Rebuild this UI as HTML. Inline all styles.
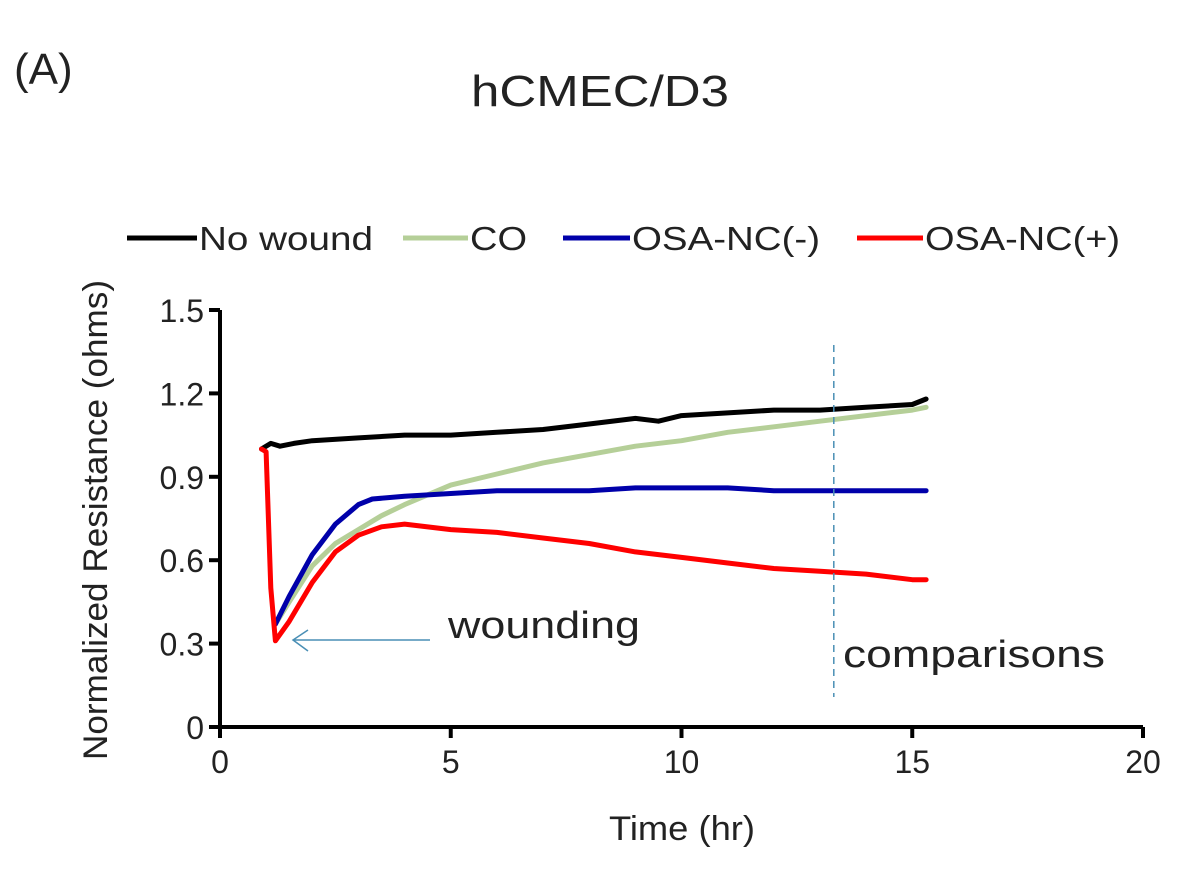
<!DOCTYPE html>
<html><head><meta charset="utf-8"><style>
body{margin:0;background:#fff;}
svg{display:block;font-family:"Liberation Sans",Arial,sans-serif;}
</style></head><body>
<svg id="chart" width="1203" height="873" viewBox="0 0 1203 873">
<text x="14" y="84" font-size="44" fill="#222">(A)</text>
<text x="600" y="106" font-size="44" fill="#222" text-anchor="middle" textLength="258" lengthAdjust="spacingAndGlyphs">hCMEC/D3</text>
<g id="legend">
<line x1="127" y1="238" x2="197" y2="238" stroke="#000" stroke-width="5"/>
<text x="199" y="250" font-size="33" fill="#222" textLength="174" lengthAdjust="spacingAndGlyphs">No wound</text>
<line x1="403" y1="238" x2="468" y2="238" stroke="#b5cf98" stroke-width="5"/>
<text x="470" y="250" font-size="33" fill="#222" textLength="57" lengthAdjust="spacingAndGlyphs">CO</text>
<line x1="563" y1="238" x2="630" y2="238" stroke="#0000aa" stroke-width="5"/>
<text x="632" y="250" font-size="33" fill="#222" textLength="188" lengthAdjust="spacingAndGlyphs">OSA-NC(-)</text>
<line x1="857" y1="238" x2="923" y2="238" stroke="#ff0000" stroke-width="5"/>
<text x="925" y="250" font-size="33" fill="#222" textLength="195" lengthAdjust="spacingAndGlyphs">OSA-NC(+)</text>
</g>
<g id="axes"></g>
<g id="series"></g>
<g id="annot"></g>
</svg>
<script>
const xTicks=[0,5,10,15,20];
const yTicks=[0,0.3,0.6,0.9,1.2,1.5];
const yTickLabels=["0","0.3","0.6","0.9","1.2","1.5"];
const timeNoWound=[0.9,1.1,1.3,1.6,2,3,4,5,6,7,8,9,9.5,10,11,12,13,14,15,15.3];
const valNoWound=[1.0,1.02,1.01,1.02,1.03,1.04,1.05,1.05,1.06,1.07,1.09,1.11,1.1,1.12,1.13,1.14,1.14,1.15,1.16,1.18];
const timeCO=[1.2,1.5,2,2.5,3,3.5,4,5,6,7,8,9,10,11,12,13,14,15,15.3];
const valCO=[0.37,0.45,0.58,0.66,0.71,0.76,0.80,0.87,0.91,0.95,0.98,1.01,1.03,1.06,1.08,1.10,1.12,1.14,1.15];
const timeMinus=[1.2,1.5,2,2.5,3,3.3,4,5,6,7,8,9,10,11,12,13,14,15,15.3];
const valMinus=[0.37,0.47,0.62,0.73,0.80,0.82,0.83,0.84,0.85,0.85,0.85,0.86,0.86,0.86,0.85,0.85,0.85,0.85,0.85];
const timePlus=[0.9,1.0,1.1,1.2,1.5,2,2.5,3,3.5,4,5,6,7,8,9,10,11,12,13,14,15,15.3];
const valPlus=[1.0,0.99,0.5,0.31,0.38,0.52,0.63,0.69,0.72,0.73,0.71,0.70,0.68,0.66,0.63,0.61,0.59,0.57,0.56,0.55,0.53,0.53];
const dashTime=13.3;

const X0=220,X1=1143,Y0=727,Y1=310;
const xs=v=>X0+(v-0)/(20-0)*(X1-X0);
const ys=v=>Y0-(v-0)/(1.5-0)*(Y0-Y1);
const NS="http://www.w3.org/2000/svg";
function mk(tag,attrs,parent){const e=document.createElementNS(NS,tag);for(const k in attrs)e.setAttribute(k,attrs[k]);parent.appendChild(e);return e;}
const axes=document.getElementById('axes');
let e=mk('line',{x1:X0,y1:Y0,x2:X1,y2:Y0,stroke:'#000','stroke-width':4},axes);


e=mk('line',{x1:X0,y1:Y0,x2:X0,y2:Y1,stroke:'#000','stroke-width':4},axes);


xTicks.forEach(t=>{
 const x=xs(t);
 let l=mk('line',{x1:x,y1:Y0,x2:x,y2:Y0+11,stroke:'#000','stroke-width':4},axes);
 
 
 let tx=mk('text',{x:x,y:Y0+46,'font-size':32,fill:'#222','text-anchor':'middle'},axes);
 tx.textContent=String(t);
 
 
});
yTicks.forEach((t,i)=>{
 const y=ys(t);
 let l=mk('line',{x1:X0-11,y1:y,x2:X0,y2:y,stroke:'#000','stroke-width':4},axes);
 
 
 let tx=mk('text',{x:X0-16,y:y+12,'font-size':32,fill:'#222','text-anchor':'end'},axes);
 tx.textContent=yTickLabels[i];
 
 
});
let xt=mk('text',{x:682,y:840,'font-size':34,fill:'#222','text-anchor':'middle',textLength:146,lengthAdjust:'spacingAndGlyphs'},axes);
xt.textContent='Time (hr)';


let yt=mk('text',{x:0,y:0,'font-size':34,fill:'#222','text-anchor':'middle',textLength:480,lengthAdjust:'spacingAndGlyphs',transform:'translate(107,520) rotate(-90)'},axes);
yt.textContent='Normalized Resistance (ohms)';



const ser=document.getElementById('series');
function line(ts,vs,color,name){
 const d=ts.map((t,i)=>(i?'L':'M')+xs(t).toFixed(1)+','+ys(vs[i]).toFixed(1)).join(' ');
 const p=mk('path',{d:d,fill:'none',stroke:color,'stroke-width':5,'stroke-linejoin':'round','stroke-linecap':'round'},ser);
 
 
}
line(timeCO,valCO,'#b5cf98','series-co');
line(timeNoWound,valNoWound,'#000','series-no-wound');
line(timeMinus,valMinus,'#0000aa','series-osa-nc-minus');
line(timePlus,valPlus,'#ff0000','series-osa-nc-plus');

const an=document.getElementById('annot');
let dl=mk('line',{x1:xs(dashTime),y1:345,x2:xs(dashTime),y2:697,stroke:'#4a8fb5','stroke-width':1.5,'stroke-dasharray':'7,5'},an);


let ar=mk('path',{d:'M430,640 L293,640 M308,630 L293,640 L308,651',fill:'none',stroke:'#4a8fb5','stroke-width':1.5},an);


let w=mk('text',{x:448,y:638,'font-size':38,fill:'#222',textLength:192,lengthAdjust:'spacingAndGlyphs'},an);
w.textContent='wounding';


let c=mk('text',{x:843,y:667,'font-size':38,fill:'#222',textLength:262,lengthAdjust:'spacingAndGlyphs'},an);
c.textContent='comparisons';


</script>
</body></html>
